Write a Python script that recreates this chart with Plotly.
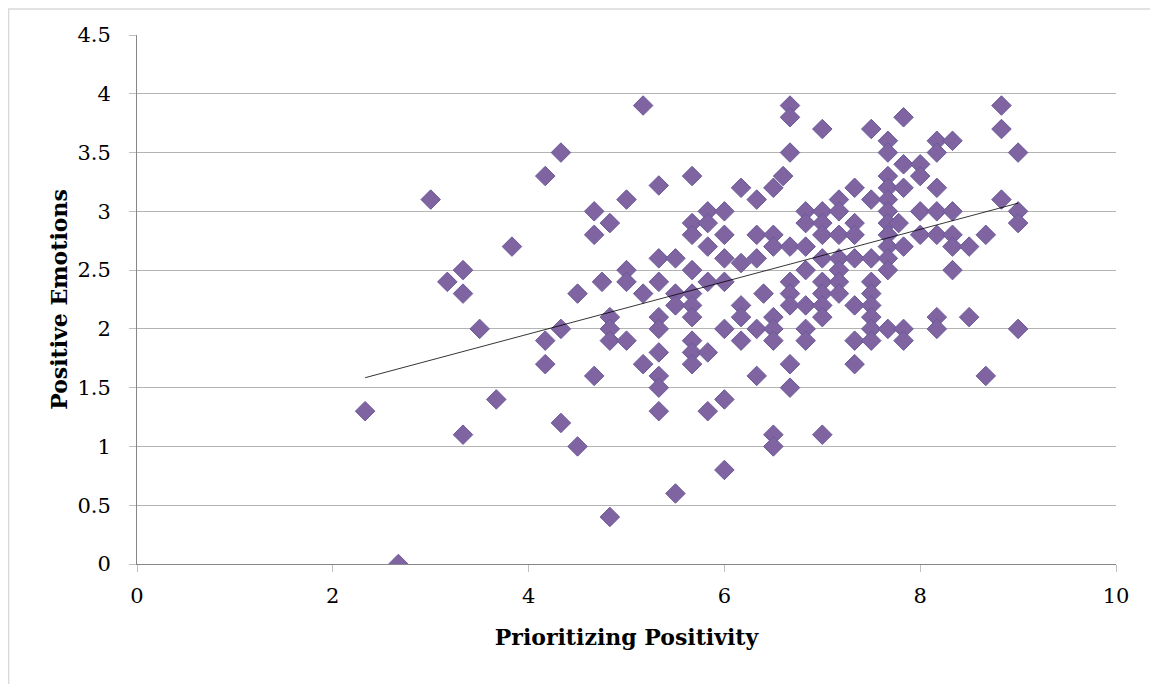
import numpy as np
import plotly.graph_objects as go

# Prioritizing Positivity (x) and Positive Emotions (y)
prioritizing_positivity = [
    2.33, 2.67, 3.0, 3.17, 3.33, 3.33, 3.33, 3.5, 3.67, 3.83,
    4.17, 4.17, 4.17, 4.33, 4.33, 4.33, 4.5, 4.5, 4.67, 4.67, 4.67, 4.75,
    4.83, 4.83, 4.83, 4.83, 4.83,
    5.0, 5.0, 5.0, 5.0,
    5.17, 5.17, 5.17,
    5.33, 5.33, 5.33, 5.33, 5.33, 5.33, 5.33, 5.33, 5.33,
    5.5, 5.5, 5.5, 5.5,
    5.67, 5.67, 5.67, 5.67, 5.67, 5.67, 5.67, 5.67, 5.67, 5.67,
    5.83, 5.83, 5.83, 5.83, 5.83, 5.83,
    6.0, 6.0, 6.0, 6.0, 6.0, 6.0, 6.0,
    6.17, 6.17, 6.17, 6.17, 6.17,
    6.33, 6.33, 6.33, 6.33, 6.33,
    6.4,
    6.5, 6.5, 6.5, 6.5, 6.5, 6.5, 6.5, 6.5,
    6.6,
    6.67, 6.67, 6.67, 6.67, 6.67, 6.67, 6.67, 6.67, 6.67,
    6.83, 6.83, 6.83, 6.83, 6.83, 6.83, 6.83,
    7.0, 7.0, 7.0, 7.0, 7.0, 7.0, 7.0, 7.0, 7.0, 7.0,
    7.17, 7.17, 7.17, 7.17, 7.17, 7.17, 7.17,
    7.33, 7.33, 7.33, 7.33, 7.33, 7.33, 7.33,
    7.5, 7.5, 7.5, 7.5, 7.5, 7.5, 7.5, 7.5, 7.5,
    7.67, 7.67, 7.67, 7.67, 7.67, 7.67, 7.67, 7.67, 7.67, 7.67, 7.67, 7.67,
    7.78,
    7.83, 7.83, 7.83, 7.83, 7.83, 7.83,
    8.0, 8.0, 8.0, 8.0,
    8.17, 8.17, 8.17, 8.17, 8.17, 8.17, 8.17,
    8.33, 8.33, 8.33, 8.33, 8.33,
    8.5, 8.5,
    8.67, 8.67,
    8.83, 8.83, 8.83,
    9.0, 9.0, 9.0, 9.0,
]
positive_emotions = [
    1.3, 0.0, 3.1, 2.4, 2.5, 2.3, 1.1, 2.0, 1.4, 2.7,
    3.3, 1.9, 1.7, 3.5, 2.0, 1.2, 2.3, 1.0, 3.0, 2.8, 1.6, 2.4,
    2.9, 2.1, 2.0, 1.9, 0.4,
    3.1, 2.5, 2.4, 1.9,
    3.9, 2.3, 1.7,
    3.22, 2.6, 2.4, 2.1, 2.0, 1.8, 1.6, 1.5, 1.3,
    2.6, 2.3, 2.2, 0.6,
    3.3, 2.9, 2.8, 2.5, 2.3, 2.2, 2.1, 1.9, 1.8, 1.7,
    3.0, 2.9, 2.7, 2.4, 1.8, 1.3,
    3.0, 2.8, 2.6, 2.4, 2.0, 1.4, 0.8,
    3.2, 2.56, 2.2, 2.1, 1.9,
    3.1, 2.8, 2.6, 2.0, 1.6,
    2.3,
    3.2, 2.8, 2.7, 2.1, 2.0, 1.9, 1.1, 1.0,
    3.3,
    3.9, 3.8, 3.5, 2.7, 2.4, 2.3, 2.2, 1.7, 1.5,
    3.0, 2.9, 2.7, 2.5, 2.2, 2.0, 1.9,
    3.7, 3.0, 2.9, 2.8, 2.6, 2.4, 2.3, 2.2, 2.1, 1.1,
    3.1, 3.0, 2.8, 2.6, 2.5, 2.4, 2.3,
    3.2, 2.9, 2.8, 2.6, 2.2, 1.9, 1.7,
    3.7, 3.1, 2.6, 2.4, 2.3, 2.2, 2.1, 2.0, 1.9,
    3.6, 3.5, 3.3, 3.2, 3.1, 3.0, 2.9, 2.8, 2.7, 2.6, 2.5, 2.0,
    2.9,
    3.8, 3.4, 3.2, 2.7, 2.0, 1.9,
    3.4, 3.3, 3.0, 2.8,
    3.6, 3.5, 3.2, 3.0, 2.8, 2.1, 2.0,
    3.6, 3.0, 2.8, 2.7, 2.5,
    2.7, 2.1,
    2.8, 1.6,
    3.9, 3.7, 3.1,
    3.5, 3.0, 2.9, 2.0,
]

# Linear trendline as drawn in the chart (intercept, slope)
trend_intercept = 1.066
trend_slope = 0.2226

x_ticks = [0, 2, 4, 6, 8, 10]
y_ticks = [0, 0.5, 1, 1.5, 2, 2.5, 3, 3.5, 4, 4.5]

x = np.array(prioritizing_positivity)
y = np.array(positive_emotions)
trend_x = np.array([x.min(), x.max()])
trend_y = trend_intercept + trend_slope * trend_x

FONT = "DejaVu Serif"

fig = go.Figure()
fig.add_trace(go.Scatter(
    x=x, y=y, mode="markers",
    marker=dict(symbol="diamond", size=15, color="#8064A2",
                line=dict(color="#6A5A98", width=1)),
    showlegend=False, hoverinfo="x+y",
))
fig.add_trace(go.Scatter(
    x=trend_x, y=trend_y, mode="lines",
    line=dict(color="#000000", width=0.8),
    showlegend=False, hoverinfo="skip",
))

fig.update_layout(
    width=1150, height=676,
    margin=dict(l=129, r=42, t=27, b=119.5, autoexpand=False),
    paper_bgcolor="white", plot_bgcolor="white",
    font=dict(family=FONT, size=20, color="#000000"),
    xaxis=dict(
        range=[0, 10], tickvals=x_ticks, ticktext=[str(v) for v in x_ticks],
        showgrid=False, zeroline=False, automargin=False,
        showline=True, linecolor="#868686", linewidth=1,
        ticks="outside", ticklen=7, tickcolor="#BFBFBF", tickwidth=1,
        ticklabelstandoff=6,
        tickfont=dict(family=FONT, size=21),
        title=dict(text="<b>Prioritizing Positivity</b>",
                   font=dict(family=FONT, size=22), standoff=22),
    ),
    yaxis=dict(
        range=[0, 4.5], tickvals=y_ticks,
        ticktext=[f"{v:g}" for v in y_ticks],
        showgrid=True, gridcolor="#B3B3B3", gridwidth=1,
        zeroline=False, automargin=False,
        showline=True, linecolor="#868686", linewidth=1,
        ticks="outside", ticklen=7, tickcolor="#BFBFBF", tickwidth=1,
        ticklabelstandoff=14,
        tickfont=dict(family=FONT, size=21),
        title=dict(text="<b>Positive Emotions</b>",
                   font=dict(family=FONT, size=22), standoff=3),
    ),
    shapes=[dict(type="rect", xref="paper", yref="paper",
                 x0=-0.1312, x1=1.0398, y0=1.049, y1=-0.26,
                 line=dict(color="#D9D9D9", width=1.5),
                 fillcolor="rgba(0,0,0,0)", layer="below")],
)

fig.write_html("out.html")
